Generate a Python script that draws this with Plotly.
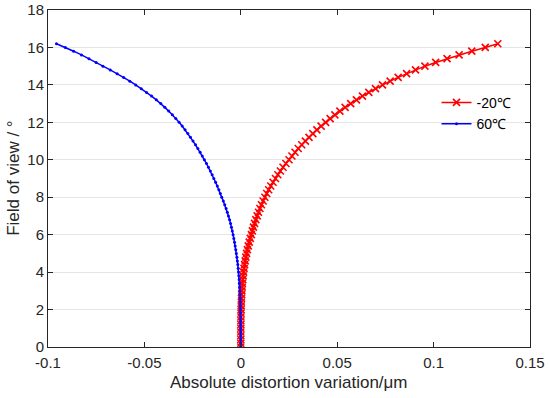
import plotly.graph_objects as go

# Field of view (degrees), 0 to 16.2 in 0.2 steps
fov = [0.0, 0.2, 0.4, 0.6, 0.8, 1.0, 1.2, 1.4, 1.6, 1.8,
       2.0, 2.2, 2.4, 2.6, 2.8, 3.0, 3.2, 3.4, 3.6, 3.8,
       4.0, 4.2, 4.4, 4.6, 4.8, 5.0, 5.2, 5.4, 5.6, 5.8,
       6.0, 6.2, 6.4, 6.6, 6.8, 7.0, 7.2, 7.4, 7.6, 7.8,
       8.0, 8.2, 8.4, 8.6, 8.8, 9.0, 9.2, 9.4, 9.6, 9.8,
       10.0, 10.2, 10.4, 10.6, 10.8, 11.0, 11.2, 11.4, 11.6, 11.8,
       12.0, 12.2, 12.4, 12.6, 12.8, 13.0, 13.2, 13.4, 13.6, 13.8,
       14.0, 14.2, 14.4, 14.6, 14.8, 15.0, 15.2, 15.4, 15.6, 15.8,
       16.0, 16.2]

# Absolute distortion variation (um) at -20 C
dist_m20 = [0.0, 0.0000001, 0.0000007, 0.0000028, 0.0000072, 0.000015, 0.0000275, 0.000046, 0.0000714, 0.000106,
            0.00015, 0.000204, 0.000271, 0.000352, 0.000448, 0.00056, 0.000692, 0.000844, 0.001018, 0.001216,
            0.00144, 0.00169, 0.00197, 0.00228, 0.00262, 0.0030, 0.00342, 0.00388, 0.00438, 0.00492,
            0.0055, 0.0060, 0.00655, 0.00714, 0.00779, 0.0085, 0.00918, 0.00992, 0.01071, 0.01157,
            0.0125, 0.01345, 0.01446, 0.01556, 0.01673, 0.0180, 0.01922, 0.02053, 0.02192, 0.02341,
            0.0250, 0.02651, 0.02811, 0.02980, 0.03160, 0.0335, 0.03538, 0.03736, 0.03946, 0.04167,
            0.0440, 0.04634, 0.04880, 0.05139, 0.05412, 0.0570, 0.05997, 0.06310, 0.06639, 0.06986,
            0.0735, 0.07745, 0.08162, 0.08600, 0.09063, 0.0955, 0.10107, 0.10697, 0.11321, 0.11981,
            0.1268, 0.1333]

# Absolute distortion variation (um) at 60 C
dist_60 = [0.0, -0.00000013, -0.000001, -0.0000036, -0.0000086, -0.000017, -0.0000296, -0.0000473, -0.000071, -0.0001015,
           -0.00014, -0.000187, -0.000244, -0.000311, -0.000389, -0.00048, -0.000585, -0.000705, -0.00084, -0.000992,
           -0.00116, -0.001347, -0.001554, -0.001782, -0.00203, -0.0023, -0.00259, -0.002906, -0.003244, -0.003609,
           -0.0040, -0.004394, -0.004828, -0.005304, -0.005827, -0.0064, -0.006983, -0.00762, -0.008315, -0.009073,
           -0.0099, -0.01061, -0.01137, -0.01219, -0.01306, -0.0140, -0.01487, -0.01578, -0.01676, -0.0178,
           -0.0189, -0.01996, -0.02107, -0.02225, -0.02349, -0.0248, -0.0261, -0.02746, -0.0289, -0.03041,
           -0.0320, -0.03371, -0.03551, -0.0374, -0.0394, -0.0415, -0.04382, -0.04628, -0.04887, -0.05161,
           -0.0545, -0.05754, -0.06075, -0.06414, -0.06772, -0.0715, -0.07503, -0.07874, -0.08263, -0.08672,
           -0.0910, -0.0956]

series_names = ["-20℃", "60℃"]
x_tickvals = [-0.1, -0.05, 0, 0.05, 0.1, 0.15]
x_ticktext = ["-0.1", "-0.05", "0", "0.05", "0.1", "0.15"]
y_tickvals = [0, 2, 4, 6, 8, 10, 12, 14, 16, 18]
x_title = "Absolute distortion variation/μm"
y_title = "Field of view / °"

FONT = "Liberation Sans, Arial, sans-serif"
AX = "#262626"

fig = go.Figure()
fig.add_trace(go.Scatter(
    x=dist_m20, y=fov, name=series_names[0], mode="lines+markers",
    line=dict(color="#FF0000", width=1.5),
    marker=dict(symbol="x-thin", size=7, line=dict(color="#FF0000", width=1.6), color="#FF0000"),
))
fig.add_trace(go.Scatter(
    x=dist_60, y=fov, name=series_names[1], mode="lines+markers",
    line=dict(color="#0000FF", width=1.5),
    marker=dict(symbol="circle", size=3, color="#0000FF"),
))

fig.update_layout(
    width=550, height=398,
    margin=dict(l=48, r=20, t=10, b=51, autoexpand=False),
    paper_bgcolor="white", plot_bgcolor="white",
    font=dict(family=FONT, size=15, color=AX),
    showlegend=True,
    legend=dict(x=0.806, y=0.772, xanchor="left", yanchor="top",
                bgcolor="rgba(0,0,0,0)", borderwidth=0,
                font=dict(family=FONT, size=14, color="#000000"),
                itemwidth=30, tracegroupgap=0),
    annotations=[
        dict(text=x_title, xref="paper", yref="paper", x=0.5, y=-0.105,
             xanchor="center", yanchor="middle", showarrow=False,
             font=dict(family=FONT, size=17, color=AX)),
        dict(text=y_title, xref="paper", yref="paper", x=-0.072, y=0.5,
             xanchor="center", yanchor="middle", showarrow=False, textangle=-90,
             font=dict(family=FONT, size=17, color=AX)),
    ],
)
fig.update_xaxes(
    range=[-0.1, 0.15], tickvals=x_tickvals, ticktext=x_ticktext,
    showgrid=False, zeroline=False, automargin=False,
    showline=True, linecolor=AX, linewidth=1, mirror="ticks",
    ticks="inside", ticklen=5, tickcolor=AX, ticklabelstandoff=2,
    tickfont=dict(family=FONT, size=15, color=AX),
)
fig.update_yaxes(
    range=[0, 18], tickvals=y_tickvals,
    showgrid=True, gridcolor="#E6E6E6", gridwidth=1, zeroline=False, automargin=False,
    showline=True, linecolor=AX, linewidth=1, mirror="ticks",
    ticks="inside", ticklen=5, tickcolor=AX,
    tickfont=dict(family=FONT, size=15, color=AX),
)

fig.write_html("out.html", config={"displayModeBar": False},
               post_script="document.body.style.margin='0';")
